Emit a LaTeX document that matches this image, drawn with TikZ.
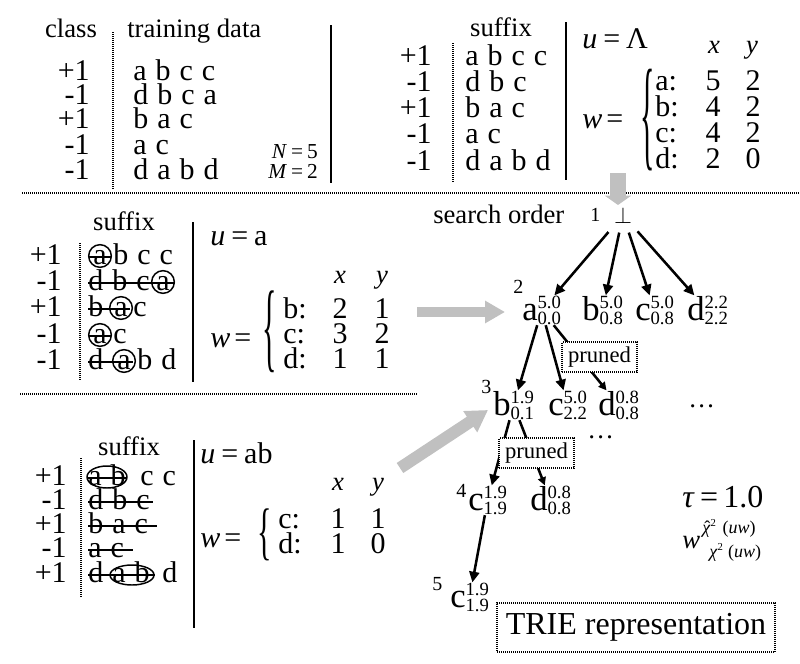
\documentclass[tikz,border=0pt]{standalone}
\usepackage{fontspec}
\setmainfont{Liberation Serif}
\usepackage{graphicx}
\usetikzlibrary{arrows.meta}
\definecolor{garrow}{RGB}{192,192,192}
\newcommand\fr{\fontsize{22.5}{25}\selectfont\spaceskip=0.3em\relax}
\newcommand\fh{\fontsize{20}{22}\selectfont}
\newcommand\fsc{\fontsize{14}{15}\selectfont}
\newcommand\fon{\fontsize{15}{16}\selectfont}
\newcommand\fle{\fontsize{26}{28}\selectfont}
\newcommand\tn[3]{{\fle #1}\makebox[0pt][l]{\raisebox{9pt}{\fsc #2}}\raisebox{-3.5pt}{\fsc #3}}
\newcommand\chihat{\ooalign{\textit{χ}\cr\hidewidth\kern1.5pt ˆ\hidewidth\cr}}
\tikzset{
 rw/.style={inner sep=0pt,font=\fr,anchor=base west},
 rl/.style={inner sep=0pt,font=\fr,anchor=base east},
 rc/.style={inner sep=0pt,font=\fr,anchor=base},
 hd/.style={inner sep=0pt,font=\fh,anchor=base},
 hdw/.style={inner sep=0pt,font=\fh,anchor=base west},
 dotln/.style={line width=1.5pt,dash pattern=on 0.75pt off 0.75pt},
 bar/.style={line width=1.4pt},
 strk/.style={line width=1.1pt},
 tnode/.style={inner sep=0pt,anchor=base west},
 onum/.style={inner sep=0pt,font=\fon,anchor=base west},
 arr/.style={line width=1.9pt,-{Triangle[length=8pt,width=7.5pt]}},
 parr/.style={line width=1.9pt,-{Triangle[length=6pt,width=6pt]}},
 garr/.style={draw=garrow},
 prn/.style={draw,line width=1.5pt,dash pattern=on 0.75pt off 0.75pt,fill=white,inner sep=0pt,minimum width=56pt,minimum height=22.5pt,font=\fontsize{17}{18}\selectfont},
 brc/.style={inner sep=0pt,font=\fr,anchor=center},
}
\begin{document}
\begin{tikzpicture}[x=0.75pt,y=-0.75pt]
\useasboundingbox (0,0) rectangle (800,664);

% ---------- top-left: training data ----------
\node[hd] (tlh1) at (71,37) {class};
\node[hdw] (tlh2) at (127,37) {training data};
\draw[dotln] (113,32) -- (113,190);
\draw[bar] (331,25) -- (331,183);
\node[rl] (tll1) at (90,80) {+1};
\node[rl] (tll2) at (90,104) {-1};
\node[rl] (tll3) at (90,128) {+1};
\node[rl] (tll4) at (90,154) {-1};
\node[rl] (tll5) at (90,179) {-1};
\node[rw] (tld1) at (133,80) {a b c c};
\node[rw] (tld2) at (133,104) {d b c a};
\node[rw] (tld3) at (133,128) {b a c};
\node[rw] (tld4) at (133,154) {a c};
\node[rw] (tld5) at (133,179) {d a b d};
\node[inner sep=0pt,anchor=base east,font=\fontsize{16}{17}\selectfont] (tlN) at (318,158) {\textit{N}\hspace{3pt}=\hspace{3pt}5};
\node[inner sep=0pt,anchor=base east,font=\fontsize{16}{17}\selectfont] (tlM) at (318,178) {\textit{M}\hspace{3pt}=\hspace{3pt}2};

% ---------- top-right: u = Lambda ----------
\node[hd] (trh) at (501,36) {suffix};
\draw[dotln] (453,43) -- (453,182);
\draw[bar] (566,22) -- (566,180);
\node[rl] (trl1) at (432,65) {+1};
\node[rl] (trl2) at (432,91) {-1};
\node[rl] (trl3) at (432,117) {+1};
\node[rl] (trl4) at (432,143) {-1};
\node[rl] (trl5) at (432,170) {-1};
\node[rw] (trd1) at (465,65) {a b c c};
\node[rw] (trd2) at (465,91) {d b c};
\node[rw] (trd3) at (465,117) {b a c};
\node[rw] (trd4) at (465,143) {a c};
\node[rw] (trd5) at (465,170) {d a b d};
\node[rw] (tru) at (582,48) {\textit{u}\hspace{4.5pt}=\hspace{4.5pt}Λ};
\node[rc,font=\fh] (trx) at (714,53) {\textit{x}};
\node[rc,font=\fh] (try) at (752,53) {\textit{y}};
\node[rw] (trw) at (582,128) {\textit{w}\hspace{3pt}=};
\node[brc] (trb) at (648,120) {\scalebox{1}[4.1]{\{}};
\node[rw] (tra1) at (655,90) {a:};
\node[rw] (tra2) at (655,116) {b:};
\node[rw] (tra3) at (655,142) {c:};
\node[rw] (tra4) at (655,168) {d:};
\node[rc] (trv1) at (713,90) {5};  \node[rc] (trv2) at (753,90) {2};
\node[rc] (trv3) at (713,116) {4}; \node[rc] (trv4) at (753,116) {2};
\node[rc] (trv5) at (713,142) {4}; \node[rc] (trv6) at (753,142) {2};
\node[rc] (trv7) at (713,168) {2}; \node[rc] (trv8) at (753,168) {0};

% ---------- separators ----------
\draw[dotln] (22,193) -- (800,193);
\draw[dotln] (20,394) -- (418,394);

% ---------- middle-left: u = a ----------
\node[hd] (mlh) at (124,230) {suffix};
\draw[dotln] (80,243) -- (80,380);
\draw[bar] (193,222) -- (193,382);
\node[rl] (mll1) at (62,264) {+1};
\node[rl] (mll2) at (62,290) {-1};
\node[rl] (mll3) at (62,316) {+1};
\node[rl] (mll4) at (62,343) {-1};
\node[rl] (mll5) at (62,369) {-1};
% row 1
\node[rc] (ml1a) at (100,264) {a};
\draw[strk] (100,256) circle[radius=8.5pt];
\draw[strk] (89,257) -- (111,257);
\node[rw] (ml1b) at (113,264) {b c c};
% row 2
\node[rw] (ml2a) at (88,290) {d b c};
\node[rc] (ml2b) at (163,290) {a};
\draw[strk] (163,282) circle[radius=8.5pt];
\draw[strk] (88,283) -- (175,283);
% row 3
\node[rw] (ml3a) at (88,316) {b};
\node[rc] (ml3b) at (121,316) {a};
\draw[strk] (121,308) circle[radius=8.5pt];
\node[rw] (ml3c) at (133,316) {c};
\draw[strk] (88,309) -- (130,309);
% row 4
\node[rc] (ml4a) at (100,343) {a};
\draw[strk] (100,335) circle[radius=8.5pt];
\draw[strk] (89,336) -- (111,336);
\node[rw] (ml4b) at (113,343) {c};
% row 5
\node[rw] (ml5a) at (88,369) {d};
\node[rc] (ml5b) at (124,369) {a};
\draw[strk] (124,361) circle[radius=8.5pt];
\node[rw] (ml5c) at (137,369) {b d};
\draw[strk] (88,362) -- (133,362);
\node[rw] (mlu) at (210,245) {\textit{u}\hspace{4.5pt}=\hspace{4.5pt}a};
\node[rc,font=\fh] (mlx) at (340,283) {\textit{x}};
\node[rc,font=\fh] (mly) at (382,283) {\textit{y}};
\node[rw] (mlw) at (210,347) {\textit{w}\hspace{3pt}=};
\node[brc] (mlb) at (270,332) {\scalebox{1}[3.3]{\{}};
\node[rw] (mlk1) at (283,318) {b:};
\node[rw] (mlk2) at (283,343) {c:};
\node[rw] (mlk3) at (283,368) {d:};
\node[rc] (mlv1) at (340,318) {2}; \node[rc] (mlv2) at (382,318) {1};
\node[rc] (mlv3) at (340,343) {3}; \node[rc] (mlv4) at (382,343) {2};
\node[rc] (mlv5) at (340,368) {1}; \node[rc] (mlv6) at (382,368) {1};

% ---------- bottom-left: u = ab ----------
\node[hd] (blh) at (129,455) {suffix};
\draw[dotln] (81,458) -- (81,597);
\draw[bar] (194,440) -- (194,628);
\node[rl] (bll1) at (67,485) {+1};
\node[rl] (bll2) at (67,509) {-1};
\node[rl] (bll3) at (67,533) {+1};
\node[rl] (bll4) at (67,557) {-1};
\node[rl] (bll5) at (67,582) {+1};
\node[rw] (bl1a) at (88,485) {a b};
\draw[strk] (107,477) ellipse[x radius=15pt,y radius=8.25pt];
\draw[strk] (88,478) -- (126,478);
\node[rw] (bl1b) at (140,485) {c c};
\node[rw] (bl2) at (88,509) {d b c};
\draw[strk] (88,502) -- (153,502);
\node[rw] (bl3) at (88,533) {b a c};
\draw[strk] (88,526) -- (157,526);
\node[rw] (bl4) at (88,557) {a c};
\draw[strk] (88,550) -- (133,550);
\node[rw] (bl5a) at (88,582) {d a b};
\draw[strk] (132,575) ellipse[x radius=16.5pt,y radius=7.5pt];
\draw[strk] (88,575) -- (155,575);
\node[rw] (bl5b) at (162,582) {d};
\node[rw] (blu) at (200,463) {\textit{u}\hspace{4.5pt}=\hspace{4.5pt}ab};
\node[rc,font=\fh] (blx) at (338,490) {\textit{x}};
\node[rc,font=\fh] (bly) at (378,490) {\textit{y}};
\node[rw] (blw) at (200,547) {\textit{w}\hspace{3pt}=};
\node[brc] (blb) at (265,535) {\scalebox{1}[2.1]{\{}};
\node[rw] (blk1) at (278,528) {c:};
\node[rw] (blk2) at (278,553) {d:};
\node[rc] (blv1) at (338,528) {1}; \node[rc] (blv2) at (378,528) {1};
\node[rc] (blv3) at (338,553) {1}; \node[rc] (blv4) at (378,553) {0};

% ---------- gray arrows ----------
\draw[garr,line width=12pt,-{Triangle[length=7pt,width=19.5pt]}] (618,173) -- (618,205);
\draw[garr,line width=7.5pt,-{Triangle[length=15pt,width=16pt]}] (417,312) -- (505,312);
\draw[garr,line width=9pt,-{Triangle[length=16pt,width=18pt]}] (400,468) -- (488,410);

% ---------- trie ----------
\node[inner sep=0pt,font=\fh,anchor=base west] (so) at (433,223) {search order};
\node[onum] (o1) at (590,221) {1};
\node[inner xsep=4pt,inner ysep=7pt,font=\fontsize{17}{18}\selectfont] (bot) at (623,215) {$\perp$};

\node[tnode] (a2) at (522,320) {\tn{a}{5.0}{0.0}};
\node[tnode] (b2) at (582,320) {\tn{b}{5.0}{0.8}};
\node[tnode] (c2) at (635,320) {\tn{c}{5.0}{0.8}};
\node[tnode] (d2) at (687,320) {\tn{d}{2.2}{2.2}};
\node[onum] (o2) at (513,293) {2};

\node[tnode] (b3) at (493,415) {\tn{b}{1.9}{0.1}};
\node[tnode] (c3) at (548,415) {\tn{c}{5.0}{2.2}};
\node[tnode] (d3) at (598,415) {\tn{d}{0.8}{0.8}};
\node[onum] (o3) at (481,393) {3};
\node[inner sep=0pt,anchor=base west,font=\fh] (dots1) at (688,407) {…};
\node[inner sep=0pt,anchor=base west,font=\fh] (dots2) at (587,438) {…};

\node[tnode] (c4) at (468,510) {\tn{c}{1.9}{1.9}};
\node[tnode] (d4) at (530,510) {\tn{d}{0.8}{0.8}};
\node[onum] (o4) at (456,497) {4};

\node[tnode] (c5) at (450,607) {\tn{c}{1.9}{1.9}};
\node[onum] (o5) at (432,590) {5};

\draw[arr] (bot) -- (a2);
\draw[arr] (bot) -- (b2);
\draw[arr] (bot) -- (c2);
\draw[arr] (bot) -- (d2);
\draw[arr] (a2) -- (b3);
\draw[arr] (a2) -- (c3);
\draw[parr] (a2) -- (d3);
\draw[arr] (b3) -- (c4);
\draw[parr] (b3) -- (d4);
\draw[arr] (c4) -- (c5);

\node[prn] (pr1) at (599.5,357) {pruned};
\node[prn] (pr2) at (536.5,453) {pruned};

\node[inner sep=0pt,anchor=base west,font=\fontsize{24}{26}\selectfont] (tau) at (682,507) {\textit{τ}\hspace{4pt}=\hspace{4pt}1.0};
\node[inner sep=0pt,anchor=base west,font=\fontsize{20}{22}\selectfont] (wf) at (682,548) {\textit{w}};
\node[inner sep=0pt,anchor=base west,font=\fontsize{13.5}{14}\selectfont] (wsup) at (702,533) {\chihat\raisebox{5pt}{\fontsize{8}{8}\selectfont 2}\hspace{5pt}(\textit{uw})};
\node[inner sep=0pt,anchor=base west,font=\fontsize{13.5}{14}\selectfont] (wsub) at (709,557) {\textit{χ}\raisebox{5pt}{\fontsize{8}{8}\selectfont 2}\hspace{4pt}(\textit{uw})};

\node[draw,line width=1.5pt,dash pattern=on 0.75pt off 0.75pt,inner sep=0pt,minimum width=208.5pt,minimum height=36.75pt,font=\fontsize{24}{26}\selectfont] (trie) at (636,627.5) {TRIE representation};
\end{tikzpicture}
\end{document}
